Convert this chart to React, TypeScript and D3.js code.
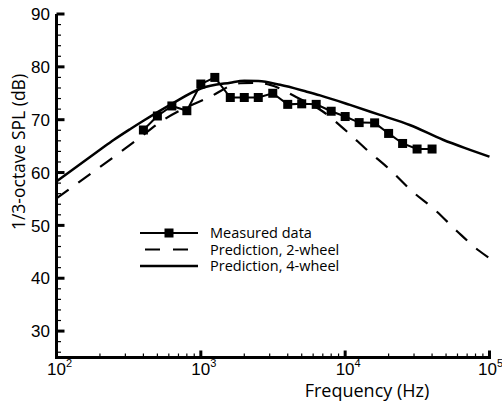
import React from "react";
import * as d3 from "d3";

const measuredFreq = [400, 500, 630, 800, 1000, 1250, 1600, 2000, 2500, 3150, 4000, 5000, 6300, 8000, 10000, 12500, 16000, 20000, 25000, 31500, 40000];
const measuredDb = [68.05, 70.7, 72.6, 71.7, 76.75, 78.0, 74.2, 74.2, 74.2, 75.0, 72.9, 73.0, 72.9, 71.6, 70.6, 69.45, 69.4, 67.4, 65.5, 64.45, 64.45];

const pred4Freq = [100, 200, 250, 323, 400, 630, 1000, 1600, 2000, 2500, 3540, 5420, 6700, 10800, 17400, 28000, 47600, 73300, 100000];
const pred4Db = [58.3, 64.3, 66.2, 68.2, 69.8, 73.0, 75.9, 77.0, 77.35, 77.3, 76.6, 75.3, 74.6, 72.8, 70.9, 69.0, 66.2, 64.3, 63.0];

const pred2Freq = [100, 361, 547, 1160, 1870, 2415, 3020, 4570, 6920, 10140, 14400, 20500, 29000, 42000, 59600, 84700, 100000];
const pred2Db = [55.1, 66.2, 69.9, 74.35, 76.9, 76.95, 76.6, 74.3, 71.65, 67.9, 64.1, 60.5, 56.5, 52.9, 48.9, 45.2, 43.8];

const yTickLabels = [30, 40, 50, 60, 70, 80, 90];
const xTickExps = [2, 3, 4, 5];
const legendLabels = ["Measured data", "Prediction, 2-wheel", "Prediction, 4-wheel"];

export default function App() {
  const W = 502, H = 402;
  const x = d3.scaleLog().domain([100, 100000]).range([56.5, 489.5]);
  const y = d3.scaleLinear().domain([25, 90]).range([357.5, 14]);

  const smooth = d3.line<[number, number]>().x(d => x(d[0])).y(d => y(d[1])).curve(d3.curveMonotoneX);
  const straight = d3.line<[number, number]>().x(d => x(d[0])).y(d => y(d[1]));

  const p4 = pred4Freq.map((f, i) => [f, pred4Db[i]] as [number, number]);
  const p2 = pred2Freq.map((f, i) => [f, pred2Db[i]] as [number, number]);
  const meas = measuredFreq.map((f, i) => [f, measuredDb[i]] as [number, number]);

  const yMinor = d3.range(26, 90, 2).filter(v => v % 10 !== 0);
  const xMinor: number[] = [];
  for (let e = 2; e < 5; e++) for (let m = 2; m <= 9; m++) xMinor.push(m * Math.pow(10, e));

  const x0 = x(100), yb = y(25);
  const tickFont = "'Liberation Sans', Arial, sans-serif";
  const labelFont = "'Open Sans', 'DejaVu Sans', sans-serif";

  const legX1 = 140, legX2 = 198, legTextX = 210;
  const legY = [233, 249.5, 266];

  return (
    <svg width={W} height={H} style={{ position: "absolute", left: 0, top: 0, background: "#fff" }}>
      <rect width={W} height={H} fill="#fff" />
      {/* curves */}
      <path d={smooth(p4) || ""} fill="none" stroke="#000" strokeWidth={2.5} />
      <path d={smooth(p2) || ""} fill="none" stroke="#000" strokeWidth={2.2} strokeDasharray="15,12" />
      <path d={straight(meas) || ""} fill="none" stroke="#000" strokeWidth={2} />
      {meas.map((d, i) => (
        <rect key={i} x={x(d[0]) - 4.5} y={y(d[1]) - 4.5} width={9} height={9} fill="#000" />
      ))}

      {/* y axis */}
      {yMinor.map(v => (
        <line key={"ym" + v} x1={x0} x2={x0 + 4.5} y1={y(v)} y2={y(v)} stroke="#000" strokeWidth={1.2} />
      ))}
      {yTickLabels.map(v => (
        <g key={"yt" + v}>
          <line x1={x0} x2={x0 + 8} y1={y(v)} y2={y(v)} stroke="#000" strokeWidth={3} />
          <text x={50} y={y(v)} dy="0.36em" textAnchor="end" fontFamily={tickFont} fontSize={17}>{v}</text>
        </g>
      ))}
      {/* x axis */}
      {xMinor.map(v => (
        <line key={"xm" + v} x1={x(v)} x2={x(v)} y1={yb} y2={yb - 4} stroke="#000" strokeWidth={1.2} />
      ))}
      {xTickExps.map(e => {
        const tx = x(Math.pow(10, e));
        const start = Math.min(tx - 9.5, 478);
        return (
          <g key={"xt" + e}>
            <line x1={tx} x2={tx} y1={yb} y2={yb - 7} stroke="#000" strokeWidth={3} />
            <text x={start} y={375} textAnchor="start" fontFamily={tickFont} fontSize={17}>
              10<tspan dy={-8} fontSize={11}>{e}</tspan>
            </text>
          </g>
        );
      })}
      <line x1={x0} x2={x0} y1={y(90)} y2={yb + 1.5} stroke="#000" strokeWidth={3} />
      <line x1={x0 - 1.5} x2={x(100000) + 1.5} y1={yb} y2={yb} stroke="#000" strokeWidth={3} />

      {/* axis titles */}
      <text x={367} y={397} textAnchor="middle" fontFamily={labelFont} fontSize={18}>Frequency (Hz)</text>
      <text transform={`translate(25,152) rotate(-90)`} textAnchor="middle" fontFamily={labelFont} fontSize={17.5}>1/3-octave SPL (dB)</text>

      {/* legend */}
      <line x1={legX1} x2={legX2} y1={legY[0]} y2={legY[0]} stroke="#000" strokeWidth={2} />
      <rect x={(legX1 + legX2) / 2 - 4.5} y={legY[0] - 4.5} width={9} height={9} fill="#000" />
      <line x1={legX1 + 5} x2={legX2} y1={legY[1]} y2={legY[1]} stroke="#000" strokeWidth={2.2} strokeDasharray="15,13" />
      <line x1={legX1} x2={legX2} y1={legY[2]} y2={legY[2]} stroke="#000" strokeWidth={2.5} />
      {legendLabels.map((t, i) => (
        <text key={t} x={legTextX} y={legY[i]} dy="0.35em" fontFamily={labelFont} fontSize={14.5}>{t}</text>
      ))}
    </svg>
  );
}
